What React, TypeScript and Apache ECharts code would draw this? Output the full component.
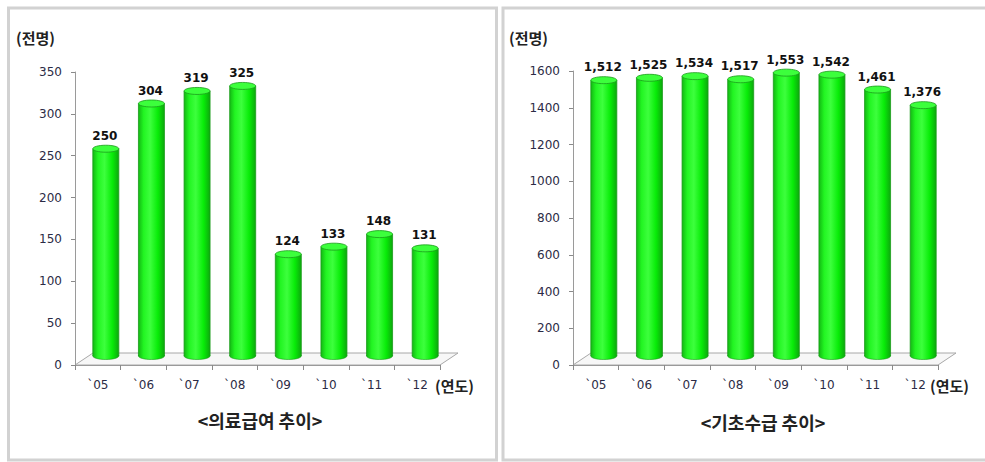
import React, { useEffect, useRef } from "react";
import * as echarts from "echarts";

const years = ["`05", "`06", "`07", "`08", "`09", "`10", "`11", "`12"];
const medicalAid = [250, 304, 319, 325, 124, 133, 148, 131];
const basicLivelihood = [1512, 1525, 1534, 1517, 1553, 1542, 1461, 1376];
const leftTicks = { max: 350, interval: 50 };
const rightTicks = { max: 1600, interval: 200 };
const leftTitle = "<의료급여 추이>";
const rightTitle = "<기초수급 추이>";
const unitY = "(전명)";
const unitX = "(연도)";

const KR = "'Noto Sans CJK KR', sans-serif";
const NUM = "'DejaVu Sans', sans-serif";

const DX = 8;
const DY = -7;
const BAR_W = 26;

function cylinder(params: any, api: any) {
  const idx = api.value(0);
  const val = api.value(1);
  const base = api.coord([idx, 0]);
  const top = api.coord([idx, val]);
  const cx = base[0] + DX;
  const by = base[1] + DY - 2;
  const ty = top[1] + DY;
  const rx = BAR_W / 2;
  const ry = 3.5;
  const grad = new echarts.graphic.LinearGradient(0, 0, 1, 0, [
    { offset: 0, color: "#13b813" },
    { offset: 0.2, color: "#22f522" },
    { offset: 0.45, color: "#3dff3d" },
    { offset: 0.75, color: "#08ec08" },
    { offset: 1, color: "#0da80d" },
  ]);
  const label = val >= 1000 ? val.toLocaleString("en-US") : String(val);
  return {
    type: "group",
    children: [
      {
        type: "ellipse",
        shape: { cx, cy: by, rx, ry },
        style: { fill: grad, stroke: "#1a9a1a", lineWidth: 0.6 },
      },
      {
        type: "rect",
        shape: { x: cx - rx, y: ty, width: BAR_W, height: by - ty },
        style: { fill: grad, stroke: null },
      },
      {
        type: "line",
        shape: { x1: cx - rx, y1: ty, x2: cx - rx, y2: by },
        style: { stroke: "#1a9a1a", lineWidth: 0.8 },
      },
      {
        type: "line",
        shape: { x1: cx + rx, y1: ty, x2: cx + rx, y2: by },
        style: { stroke: "#1a9a1a", lineWidth: 0.8 },
      },
      {
        type: "ellipse",
        shape: { cx, cy: ty, rx, ry },
        style: { fill: "#3cff3c", stroke: "#1a9a1a", lineWidth: 0.8 },
      },
      {
        type: "text",
        style: {
          text: label,
          x: cx - 1,
          y: ty - 7,
          align: "center",
          verticalAlign: "bottom",
          font: `bold 12px ${NUM}`,
          fill: "#111",
        },
      },
    ],
  };
}

// layout constants
const L = { left: 75, top: 72, width: 365, height: 293 };
const R = { left: 573, top: 71, width: 365, height: 294 };
const FLOOR_DX = 18;
const FLOOR_DY = -12;

function floor(g: { left: number; top: number; width: number; height: number }) {
  const y = g.top + g.height;
  return {
    type: "polygon",
    z: 0,
    shape: {
      points: [
        [g.left, y],
        [g.left + FLOOR_DX, y + FLOOR_DY],
        [g.left + g.width + FLOOR_DX, y + FLOOR_DY],
        [g.left + g.width, y],
      ],
    },
    style: { fill: "#f7f7f7", stroke: "#a8a8a8", lineWidth: 1 },
  };
}

function axes(gridIndex: number, t: { max: number; interval: number }) {
  return {
    x: {
      type: "category",
      gridIndex,
      data: years,
      boundaryGap: true,
      axisLine: { show: true, lineStyle: { color: "#9a9a9a", width: 1 } },
      axisTick: { show: true, length: 5, alignWithLabel: false, lineStyle: { color: "#8a8a8a" } },
      axisLabel: { fontFamily: NUM, fontSize: 12, color: "#2b2b45", margin: 14 },
      splitLine: { show: false },
    },
    y: {
      type: "value",
      gridIndex,
      min: 0,
      max: t.max,
      interval: t.interval,
      axisLine: { show: true, lineStyle: { color: "#9a9a9a", width: 1 } },
      axisTick: { show: true, length: 4, lineStyle: { color: "#8a8a8a" } },
      axisLabel: {
        fontFamily: NUM,
        fontSize: 12,
        color: "#2b2b45",
        margin: 13,
        formatter: (v: number) => String(v),
      },
      splitLine: { show: false },
    },
  };
}

export default function App() {
  const ref = useRef<HTMLDivElement>(null);
  useEffect(() => {
    document.body.style.margin = "0";
    const chart = echarts.init(ref.current!, null, { renderer: "svg" });
    const a0 = axes(0, leftTicks);
    const a1 = axes(1, rightTicks);
    chart.setOption({
      animation: false,
      backgroundColor: "#ffffff",
      grid: [
        { left: L.left, top: L.top, width: L.width, height: L.height },
        { left: R.left, top: R.top, width: R.width, height: R.height },
      ],
      xAxis: [a0.x, a1.x],
      yAxis: [a0.y, a1.y],
      series: [
        {
          type: "custom",
          xAxisIndex: 0,
          yAxisIndex: 0,
          renderItem: cylinder,
          data: medicalAid.map((v, i) => [i, v]),
          z: 5,
        },
        {
          type: "custom",
          xAxisIndex: 1,
          yAxisIndex: 1,
          renderItem: cylinder,
          data: basicLivelihood.map((v, i) => [i, v]),
          z: 5,
        },
      ],
      graphic: [
        {
          type: "rect",
          z: -10,
          shape: { x: 8.5, y: 8, width: 488, height: 452 },
          style: { fill: "#fff", stroke: "#d2d2d2", lineWidth: 3 },
        },
        {
          type: "rect",
          z: -10,
          shape: { x: 503, y: 8, width: 500, height: 452 },
          style: { fill: "#fff", stroke: "#d2d2d2", lineWidth: 3 },
        },
        floor(L),
        floor(R),
        {
          type: "text",
          style: { text: unitY, x: 16, y: 37, verticalAlign: "middle", font: `bold 15px ${KR}`, fill: "#222" },
        },
        {
          type: "text",
          style: { text: unitY, x: 509, y: 37, verticalAlign: "middle", font: `bold 15px ${KR}`, fill: "#222" },
        },
        {
          type: "text",
          style: { text: unitX, x: 435, y: 385, verticalAlign: "middle", font: `bold 15px ${KR}`, fill: "#222" },
        },
        {
          type: "text",
          style: { text: unitX, x: 930, y: 385, verticalAlign: "middle", font: `bold 15px ${KR}`, fill: "#222" },
        },
        {
          type: "text",
          style: { text: leftTitle, x: 260, y: 420, align: "center", verticalAlign: "middle", font: `bold 18px ${KR}`, fill: "#222" },
        },
        {
          type: "text",
          style: { text: rightTitle, x: 763, y: 422, align: "center", verticalAlign: "middle", font: `bold 18px ${KR}`, fill: "#222" },
        },
      ],
    });
    return () => chart.dispose();
  }, []);
  return <div ref={ref} style={{ width: 985, height: 462 }} />;
}
